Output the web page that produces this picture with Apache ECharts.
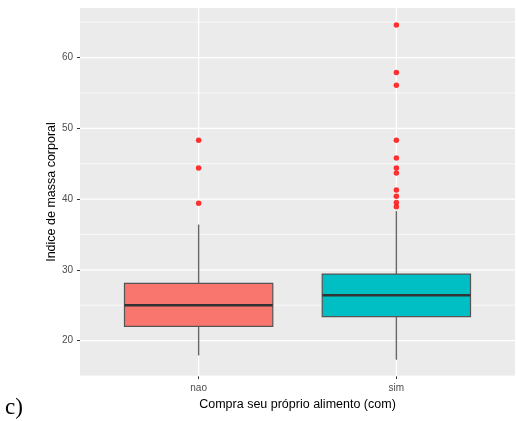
<!DOCTYPE html>
<html>
<head>
<meta charset="utf-8">
<script src="https://cdn.jsdelivr.net/npm/echarts@6/dist/echarts.min.js"></script>
<style>
  html, body { margin: 0; padding: 0; background: #ffffff; }
  #chart { width: 516px; height: 421px; }
</style>
</head>
<body>
<div id="chart"></div>
<script>
// Groups on the x axis
const categories = ['nao', 'sim'];
// Five-number summaries per group: [lower whisker, Q1, median, Q3, upper whisker]
const boxNao = [17.9, 22.0, 25.0, 28.1, 36.4];
const boxSim = [17.3, 23.4, 26.4, 29.4, 38.3];
// Points beyond the whiskers
const outliersNao = [39.4, 44.4, 48.3];
const outliersSim = [38.9, 39.5, 40.4, 41.3, 43.7, 44.4, 45.8, 48.3, 56.1, 57.9, 64.6];
// Tick values
const yMajorTicks = [20, 30, 40, 50, 60];
const yMinorTicks = [15, 25, 35, 45, 55, 65];
const xTicks = [1, 2];

const fillColors = ['#F8766D', '#00BFC4'];
const FONT = '"Liberation Sans", Arial, sans-serif';
const BOX_WIDTH = 0.75;

const boxRows = [boxNao, boxSim].map((s, i) => [i + 1].concat(s));
const outlierPoints = [];
[outliersNao, outliersSim].forEach((arr, i) => {
  arr.forEach(v => outlierPoints.push([i + 1, v]));
});

function renderGridLines(params, api) {
  // white panel grid lines drawn across the full panel
  const v = api.value(0);
  const kind = api.value(1);
  const cs = params.coordSys;
  if (kind === 0 || kind === 1) {
    const p = api.coord([1, v]);
    return {
      type: 'line',
      shape: { x1: cs.x, y1: p[1], x2: cs.x + cs.width, y2: p[1] },
      style: { stroke: '#ffffff', lineWidth: kind === 0 ? 1.3 : 0.7 },
      silent: true
    };
  }
  const p = api.coord([v, 40]);
  return {
    type: 'line',
    shape: { x1: p[0], y1: cs.y, x2: p[0], y2: cs.y + cs.height },
    style: { stroke: '#ffffff', lineWidth: 1.3 },
    silent: true
  };
}

const gridLineData = []
  .concat(yMajorTicks.map(v => [v, 0]))
  .concat(yMinorTicks.map(v => [v, 1]))
  .concat(xTicks.map(v => [v, 2]));

function renderBox(params, api) {
  const x = api.value(0);
  const lo = api.coord([x, api.value(1)]);
  const q1 = api.coord([x, api.value(2)]);
  const med = api.coord([x, api.value(3)]);
  const q3 = api.coord([x, api.value(4)]);
  const hi = api.coord([x, api.value(5)]);
  const half = api.size([BOX_WIDTH, 0])[0] / 2;
  const cx = q1[0];
  const color = fillColors[params.dataIndex];
  return {
    type: 'group',
    children: [
      { type: 'line', shape: { x1: cx, y1: hi[1], x2: cx, y2: q3[1] },
        style: { stroke: '#666666', lineWidth: 1.4 } },
      { type: 'line', shape: { x1: cx, y1: q1[1], x2: cx, y2: lo[1] },
        style: { stroke: '#666666', lineWidth: 1.4 } },
      { type: 'rect', shape: { x: cx - half, y: q3[1], width: half * 2, height: q1[1] - q3[1] },
        style: { fill: color, stroke: '#555555', lineWidth: 1.2 } },
      { type: 'line', shape: { x1: cx - half, y1: med[1], x2: cx + half, y2: med[1] },
        style: { stroke: '#333333', lineWidth: 2.4 } }
    ]
  };
}

const chart = echarts.init(document.getElementById('chart'), null, { renderer: 'canvas' });
chart.setOption({
  animation: false,
  backgroundColor: '#ffffff',
  textStyle: { fontFamily: FONT },
  grid: {
    left: 80, right: 1, top: 8, bottom: 45,
    show: true, backgroundColor: '#EBEBEB', borderWidth: 0
  },
  xAxis: {
    type: 'value',
    min: 0.4, max: 2.6,
    name: 'Compra seu próprio alimento (com)',
    nameLocation: 'middle',
    nameGap: 22,
    nameMoveOverlap: false,
    nameTextStyle: { color: '#000000', fontSize: 12.5, fontFamily: FONT },
    axisLine: { show: false },
    splitLine: { show: false },
    axisTick: { show: true, length: 3, lineStyle: { color: '#333333', width: 1 }, customValues: xTicks },
    axisLabel: {
      customValues: xTicks,
      margin: 7,
      color: '#4D4D4D', fontSize: 10, fontFamily: FONT,
      formatter: v => categories[Math.round(v) - 1]
    }
  },
  yAxis: {
    type: 'value',
    min: 15, max: 67,
    name: 'Indice de massa corporal',
    nameLocation: 'middle',
    nameGap: 22,
    nameMoveOverlap: false,
    nameTextStyle: { color: '#000000', fontSize: 12.5, fontFamily: FONT },
    axisLine: { show: false },
    splitLine: { show: false },
    axisTick: { show: true, length: 3, lineStyle: { color: '#333333', width: 1 }, customValues: yMajorTicks },
    axisLabel: {
      customValues: yMajorTicks,
      margin: 7,
      color: '#4D4D4D', fontSize: 10, fontFamily: FONT
    }
  },
  series: [
    {
      type: 'custom',
      renderItem: renderGridLines,
      data: gridLineData,
      encode: { x: -1, y: -1 },
      silent: true,
      z: 1
    },
    {
      type: 'custom',
      renderItem: renderBox,
      data: boxRows,
      encode: { x: 0, y: [1, 2, 3, 4, 5] },
      z: 2
    },
    {
      type: 'scatter',
      data: outlierPoints,
      symbol: 'circle',
      symbolSize: 5.5,
      itemStyle: { color: '#FF0000' },
      z: 3
    }
  ],
  graphic: [
    {
      type: 'text',
      left: 5, top: 396,
      style: { text: 'c)', font: '23px "Liberation Serif", "Times New Roman", serif', fill: '#000000' }
    }
  ]
});
</script>
</body>
</html>
